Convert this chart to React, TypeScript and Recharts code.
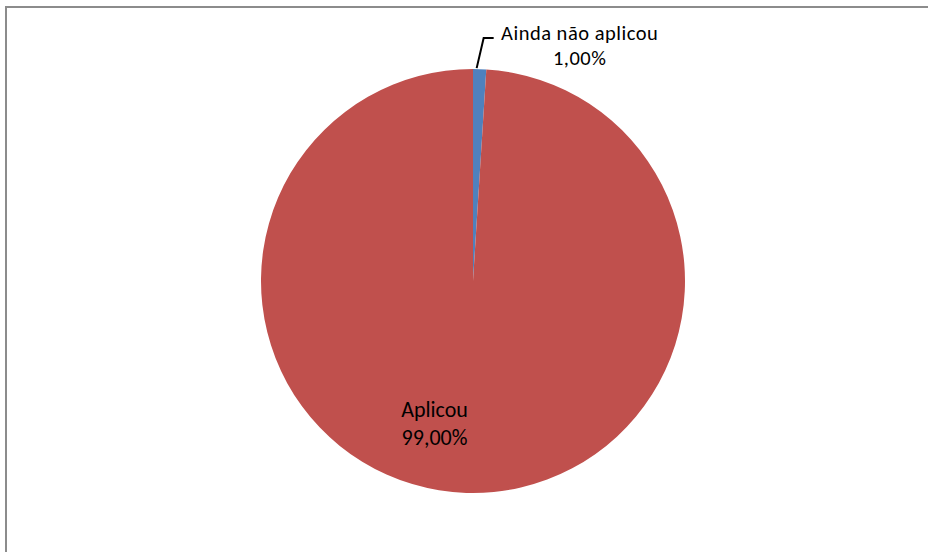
import { PieChart, Pie, Cell } from "recharts";

const categories = ["Ainda não aplicou", "Aplicou"];
const values = [1, 99];
const percentLabels = ["1,00%", "99,00%"];
const colors = ["#4F81BD", "#C0504D"];

const data = categories.map((name, i) => ({ name, value: values[i] }));

const font = "Carlito, Calibri, Lato, 'Open Sans', sans-serif";
const RAD = Math.PI / 180;

function renderLabel(props: any) {
  const { cx, cy, midAngle, outerRadius, index } = props;
  if (index === 0) {
    const sx = cx + outerRadius * Math.cos(-midAngle * RAD) - 3;
    const sy = cy + outerRadius * Math.sin(-midAngle * RAD) - 1;
    const ex = sx + 7;
    const ey = sy - 30;
    return (
      <g>
        <polyline points={`${sx},${sy} ${ex},${ey} ${ex + 10},${ey}`} fill="none" stroke="#000" strokeWidth={2} />
        <text x={ex + 96} y={ey + 2} textAnchor="middle" fontFamily={font} fontSize={20.5} letterSpacing={0.5} fill="#000">
          {categories[0]}
        </text>
        <text x={ex + 96} y={ey + 27} textAnchor="middle" fontFamily={font} fontSize={20.5} letterSpacing={0.5} fill="#000">
          {percentLabels[0]}
        </text>
      </g>
    );
  }
  const r = outerRadius * 0.67;
  const x = cx + r * Math.cos(-midAngle * RAD) - 34;
  const y = cy + r * Math.sin(-midAngle * RAD);
  return (
    <g>
      <text x={x} y={y - 6} textAnchor="middle" fontFamily={font} fontSize={22} fill="#000">
        {categories[1]}
      </text>
      <text x={x} y={y + 22} textAnchor="middle" fontFamily={font} fontSize={22} fill="#000">
        {percentLabels[1]}
      </text>
    </g>
  );
}

export default function App() {
  return (
    <div style={{ position: "fixed", left: 0, top: 0, width: 928, height: 552, background: "#fff", overflow: "hidden" }}>
      <div
        style={{
          position: "absolute",
          left: 5,
          top: 6,
          width: 1000,
          height: 600,
          borderTop: "2px solid #8c8c8c",
          borderLeft: "2px solid #8c8c8c",
        }}
      />
      <PieChart
        width={928}
        height={552}
        margin={{ top: 0, right: 0, bottom: 0, left: 0 }}
        style={{ position: "absolute", left: 0, top: 0 }}
      >
        <Pie
          data={data}
          dataKey="value"
          nameKey="name"
          cx={473}
          cy={281}
          outerRadius={212}
          startAngle={90}
          endAngle={-270}
          stroke="none"
          label={renderLabel}
          labelLine={false}
          isAnimationActive={false}
        >
          {data.map((d, i) => (
            <Cell key={d.name} fill={colors[i]} />
          ))}
        </Pie>
      </PieChart>
    </div>
  );
}
